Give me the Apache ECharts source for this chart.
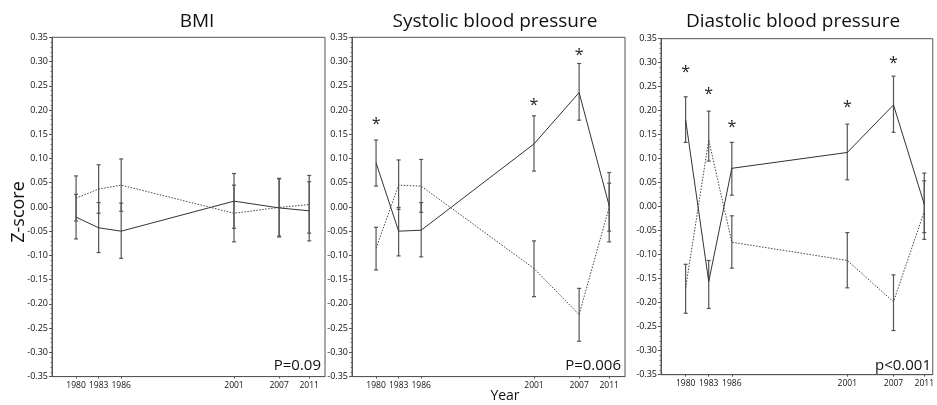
<!DOCTYPE html>
<html>
<head>
<meta charset="utf-8">
<script src="https://cdn.jsdelivr.net/npm/echarts@6/dist/echarts.min.js"></script>
<style>html,body{margin:0;padding:0;background:#fff;}#c{width:937px;height:405px;}</style>
</head>
<body>
<div id="c"></div>
<script>
const years = [1980, 1983, 1986, 2001, 2007, 2011];
const panelTitles = ['BMI', 'Systolic blood pressure', 'Diastolic blood pressure'];
const pLabels = ['P=0.09', 'P=0.006', 'p<0.001'];
const yTickMin = -0.35, yTickMax = 0.35, yTickStep = 0.05;

// BMI
const bmiSolid      = [-0.021, -0.043, -0.050,  0.012, -0.002, -0.008];
const bmiSolidLow   = [-0.066, -0.094, -0.106, -0.044, -0.062, -0.070];
const bmiSolidHigh  = [ 0.026,  0.009,  0.008,  0.069,  0.059,  0.052];
const bmiDotted     = [ 0.018,  0.037,  0.045, -0.013, -0.001,  0.005];
const bmiDottedLow  = [-0.029, -0.013, -0.009, -0.072, -0.060, -0.054];
const bmiDottedHigh = [ 0.064,  0.087,  0.099,  0.045,  0.058,  0.065];
const bmiStarYears = [];
const bmiStarY = [];

// Systolic blood pressure
const sbpSolid      = [ 0.091, -0.050, -0.048,  0.130,  0.236,  0.002];
const sbpSolidLow   = [ 0.043, -0.101, -0.103,  0.074,  0.179, -0.050];
const sbpSolidHigh  = [ 0.138, -0.001,  0.009,  0.188,  0.296,  0.071];
const sbpDotted     = [-0.085,  0.045,  0.043, -0.127, -0.222,  0.000];
const sbpDottedLow  = [-0.130, -0.005, -0.011, -0.185, -0.277, -0.072];
const sbpDottedHigh = [-0.042,  0.097,  0.098, -0.070, -0.168,  0.049];
const sbpStarYears = [1980, 2001, 2007];
const sbpStarY     = [0.178, 0.217, 0.320];

// Diastolic blood pressure
const dbpSolid      = [ 0.181, -0.156,  0.080,  0.113,  0.212,  0.005];
const dbpSolidLow   = [ 0.134, -0.212,  0.024,  0.056,  0.155, -0.054];
const dbpSolidHigh  = [ 0.229, -0.112,  0.134,  0.172,  0.272,  0.070];
const dbpDotted     = [-0.169,  0.139, -0.074, -0.112, -0.198, -0.010];
const dbpDottedLow  = [-0.222,  0.095, -0.128, -0.169, -0.258, -0.068];
const dbpDottedHigh = [-0.120,  0.199, -0.019, -0.054, -0.142,  0.054];
const dbpStarYears = [1980, 1983, 1986, 2001, 2007];
const dbpStarY     = [0.289, 0.243, 0.174, 0.215, 0.307];

const panels = [
  {solid: bmiSolid, sLo: bmiSolidLow, sHi: bmiSolidHigh, dotted: bmiDotted, dLo: bmiDottedLow, dHi: bmiDottedHigh, starX: bmiStarYears, starY: bmiStarY},
  {solid: sbpSolid, sLo: sbpSolidLow, sHi: sbpSolidHigh, dotted: sbpDotted, dLo: sbpDottedLow, dHi: sbpDottedHigh, starX: sbpStarYears, starY: sbpStarY},
  {solid: dbpSolid, sLo: dbpSolidLow, sHi: dbpSolidHigh, dotted: dbpDotted, dLo: dbpDottedLow, dHi: dbpDottedHigh, starX: dbpStarYears, starY: dbpStarY}
];

// layout
const grids = [
  {left: 52, top: 37.3, width: 273, height: 339.3},
  {left: 352, top: 37.3, width: 273, height: 339.3},
  {left: 661, top: 38.7, width: 274, height: 336}
];
const xRanges = [[1976.8, 2013.1], [1976.8, 2013.1], [1976.8, 2012.1]];
const titleCenters = [197, 495, 793];

const FONT = 'Open Sans';
const chart = echarts.init(document.getElementById('c'), null, {renderer: 'canvas'});

function errRender(params, api) {
  const x = api.value(0), lo = api.value(1), hi = api.value(2);
  const a = api.coord([x, lo]), b = api.coord([x, hi]);
  const w = 2;
  const st = {stroke: '#555', lineWidth: 1.2};
  return {type: 'group', children: [
    {type: 'line', shape: {x1: a[0], y1: a[1], x2: b[0], y2: b[1]}, style: st},
    {type: 'line', shape: {x1: a[0] - w, y1: a[1], x2: a[0] + w, y2: a[1]}, style: st},
    {type: 'line', shape: {x1: b[0] - w, y1: b[1], x2: b[0] + w, y2: b[1]}, style: st}
  ]};
}
function starRender(params, api) {
  const p = api.coord([api.value(0), api.value(1)]);
  return {type: 'text', x: p[0], y: p[1] + 4, style: {text: '*', fontSize: 16, fontFamily: FONT, fill: '#222', align: 'center', verticalAlign: 'middle'}};
}

const series = [];
panels.forEach((p, i) => {
  series.push({type: 'custom', xAxisIndex: i, yAxisIndex: i, renderItem: errRender, encode: {x: 0, y: [1, 2]},
    data: years.map((y, k) => [y, p.sLo[k], p.sHi[k]]), z: 2});
  series.push({type: 'custom', xAxisIndex: i, yAxisIndex: i, renderItem: errRender, encode: {x: 0, y: [1, 2]},
    data: years.map((y, k) => [y, p.dLo[k], p.dHi[k]]), z: 2});
  series.push({type: 'line', xAxisIndex: i, yAxisIndex: i, showSymbol: false, symbol: 'none',
    data: years.map((y, k) => [y, p.solid[k]]), lineStyle: {color: '#333', width: 1, type: 'solid'}, z: 3});
  series.push({type: 'line', xAxisIndex: i, yAxisIndex: i, showSymbol: false, symbol: 'none',
    data: years.map((y, k) => [y, p.dotted[k]]), lineStyle: {color: '#444', width: 1, type: [1.5, 1.5]}, z: 3});
  if (p.starX.length) {
    series.push({type: 'custom', xAxisIndex: i, yAxisIndex: i, renderItem: starRender, encode: {x: 0, y: 1},
      data: p.starX.map((y, k) => [y, p.starY[k]]), z: 4, clip: false});
  }
});

const graphics = [];
panelTitles.forEach((t, i) => {
  graphics.push({type: 'text', x: titleCenters[i], y: 22, style: {text: t, fontSize: 19, fontFamily: FONT, fill: '#111', align: 'center', verticalAlign: 'middle'}});
  const g = grids[i];
  graphics.push({type: 'text', x: g.left + g.width - 4, y: 366, style: {text: pLabels[i], fontSize: 15, fontFamily: FONT, fill: '#111', align: 'right', verticalAlign: 'middle'}});
});
graphics.push({type: 'text', x: 19, y: 212, rotation: Math.PI / 2, style: {text: 'Z-score', fontSize: 18, fontFamily: FONT, fill: '#111', align: 'center', verticalAlign: 'middle'}});
graphics.push({type: 'text', x: 505, y: 396, style: {text: 'Year', fontSize: 14, fontFamily: FONT, fill: '#111', align: 'center', verticalAlign: 'middle'}});

chart.setOption({
  animation: false,
  backgroundColor: '#fff',
  grid: grids.map(g => Object.assign({show: true, borderColor: '#555', borderWidth: 1, containLabel: false}, g)),
  xAxis: grids.map((g, i) => ({
    type: 'value', gridIndex: i, min: xRanges[i][0], max: xRanges[i][1],
    axisLine: {show: true, onZero: false, lineStyle: {color: '#555'}},
    axisTick: {show: true, customValues: years, length: 2, lineStyle: {color: '#555'}},
    axisLabel: {customValues: years, fontSize: 8.5, fontFamily: FONT, color: '#111', margin: 4,
      hideOverlap: false, showMinLabel: true, showMaxLabel: true, formatter: v => String(Math.round(v))},
    splitLine: {show: false}
  })),
  yAxis: grids.map((g, i) => ({
    type: 'value', gridIndex: i, min: yTickMin, max: yTickMax, interval: yTickStep,
    axisLine: {show: true, onZero: false, lineStyle: {color: '#555'}},
    axisTick: {show: true, length: 3, lineStyle: {color: '#555'}},
    minorTick: {show: true, splitNumber: 5, length: 1.5, lineStyle: {color: '#777'}},
    axisLabel: {fontSize: 9, fontFamily: FONT, color: '#111', margin: 4,
      formatter: v => (Math.abs(v) < 1e-9 ? '0.00' : v.toFixed(2))},
    splitLine: {show: false}
  })),
  series: series,
  graphic: graphics
});
</script>
</body>
</html>
